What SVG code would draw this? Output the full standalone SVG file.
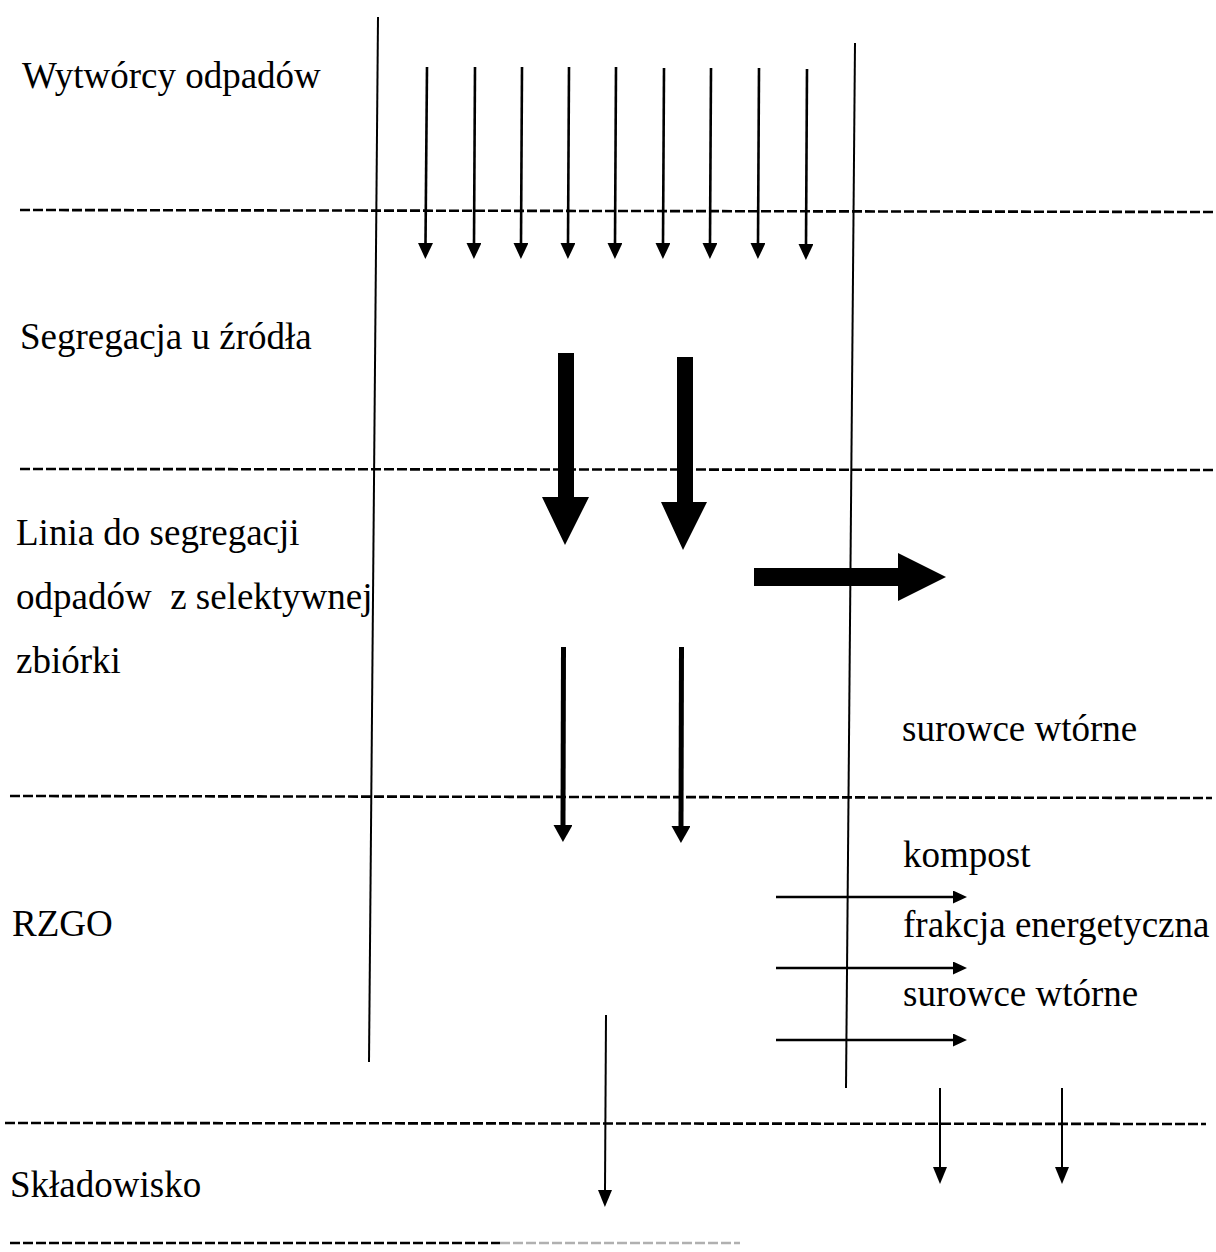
<svg xmlns="http://www.w3.org/2000/svg" width="1216" height="1252" viewBox="0 0 1216 1252">
<style>
.lbl{font-family:"Liberation Serif","Times New Roman",serif;font-size:37px;fill:#000}
.dash{stroke:#000;stroke-width:2.6;stroke-dasharray:10 3;fill:none}
.vl{stroke:#000;stroke-width:2;fill:none}
.a1{stroke:#000;stroke-width:2.6;fill:none;marker-end:url(#ah)}
.a2{stroke:#000;stroke-width:5;fill:none;marker-end:url(#ah2)}
.a3{stroke:#000;stroke-width:2.4;fill:none;marker-end:url(#ahr)}
.a4{stroke:#000;stroke-width:2;fill:none;marker-end:url(#ahb)}
.thick{fill:#000}
</style>
<defs>
<marker id="ah" markerUnits="userSpaceOnUse" viewBox="0 0 16 15" refX="0" refY="7.5" markerWidth="16" markerHeight="15" orient="auto"><path d="M0,0 L16,7.5 L0,15 z" fill="#000"/></marker>
<marker id="ah2" markerUnits="userSpaceOnUse" viewBox="0 0 17 19" refX="0" refY="9.5" markerWidth="17" markerHeight="19" orient="auto"><path d="M0,0 L17,9.5 L0,19 z" fill="#000"/></marker>
<marker id="ahr" markerUnits="userSpaceOnUse" viewBox="0 0 14 13" refX="0" refY="6.5" markerWidth="14" markerHeight="13" orient="auto"><path d="M0,0 L14,6.5 L0,13 z" fill="#000"/></marker>
<marker id="ahb" markerUnits="userSpaceOnUse" viewBox="0 0 17 14" refX="0" refY="7" markerWidth="17" markerHeight="14" orient="auto"><path d="M0,0 L17,7 L0,14 z" fill="#000"/></marker>
</defs>

<g id="grid">
<line class="vl" x1="378" y1="17" x2="369" y2="1062"/>
<line class="vl" x1="855" y1="43" x2="846" y2="1088"/>
<line class="dash" x1="20" y1="210" x2="1216" y2="212"/>
<line class="dash" x1="20" y1="469" x2="1216" y2="470"/>
<line class="dash" x1="10" y1="796" x2="1212" y2="798"/>
<line class="dash" x1="5" y1="1123" x2="1206" y2="1124"/>
<line class="dash" x1="10" y1="1243" x2="500" y2="1243"/>
<line class="dash" x1="500" y1="1243" x2="740" y2="1243" style="stroke:#b0b0b0"/>
</g>

<g id="labels">
<text id="n-wytworcy" class="lbl" x="22" y="88">Wytwórcy odpadów</text>
<text id="n-segregacja" class="lbl" x="20" y="349">Segregacja u źródła</text>
<g id="n-linia">
<text class="lbl" x="16" y="545">Linia do segregacji</text>
<text class="lbl" x="16" y="609" xml:space="preserve">odpadów  z selektywnej</text>
<text class="lbl" x="16" y="673">zbiórki</text>
</g>
<text id="n-surowce1" class="lbl" x="902" y="741">surowce wtórne</text>
<text id="n-rzgo" class="lbl" x="12" y="936">RZGO</text>
<text id="n-kompost" class="lbl" x="903" y="867">kompost</text>
<text id="n-frakcja" class="lbl" x="903" y="937">frakcja energetyczna</text>
<text id="n-surowce2" class="lbl" x="903" y="1006">surowce wtórne</text>
<text id="n-skladowisko" class="lbl" x="10" y="1197">Składowisko</text>
</g>

<g id="connectors">
<line class="a1" x1="427" y1="67" x2="425.5" y2="243"/>
<line class="a1" x1="475" y1="67" x2="474" y2="243"/>
<line class="a1" x1="522" y1="67" x2="521" y2="243"/>
<line class="a1" x1="569" y1="67" x2="568" y2="243"/>
<line class="a1" x1="616" y1="67" x2="615" y2="243"/>
<line class="a1" x1="664" y1="68" x2="663" y2="243"/>
<line class="a1" x1="711" y1="68" x2="710" y2="243"/>
<line class="a1" x1="759" y1="68" x2="758" y2="243"/>
<line class="a1" x1="807" y1="69" x2="806" y2="244"/>

<polygon class="thick" points="558,353 574,353 574,497 589,497 565,545 542,497 558,497"/>
<polygon class="thick" points="677,357 693,357 693,502 707,502 683,550 661,502 677,502"/>
<polygon class="thick" points="754,568 898,568 898,553 946,577 898,601 898,586 754,586"/>

<line class="a2" x1="563.5" y1="647" x2="563" y2="825"/>
<line class="a2" x1="681.5" y1="647" x2="681" y2="826"/>

<line class="a3" x1="776" y1="897" x2="953" y2="897"/>
<line class="a3" x1="776" y1="968" x2="953" y2="968"/>
<line class="a3" x1="776" y1="1040" x2="953" y2="1040"/>

<line class="a4" x1="606" y1="1015" x2="605" y2="1190"/>
<line class="a4" x1="940" y1="1088" x2="940" y2="1167"/>
<line class="a4" x1="1062" y1="1088" x2="1062" y2="1167"/>
</g>
</svg>
